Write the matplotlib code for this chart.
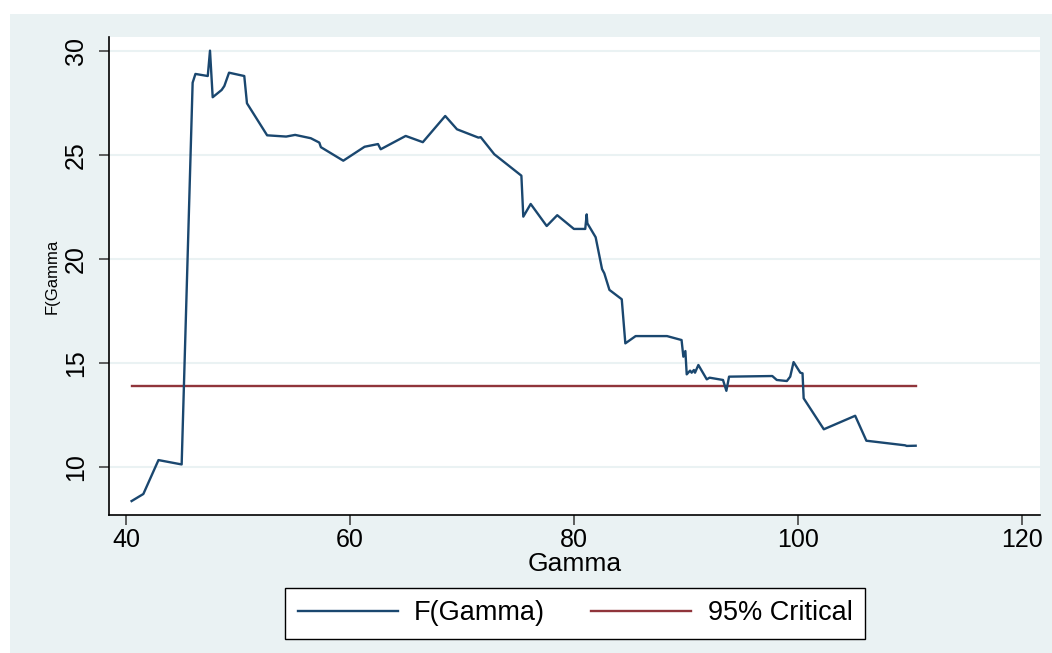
import numpy as np
import matplotlib
matplotlib.use("Agg")
import matplotlib.pyplot as plt

# valores (Gamma, F(Gamma))
gamma = [40.5, 41.55, 42.9, 44.97, 45.95, 46.2, 47.3, 47.5, 47.74, 48.54, 48.78,
         49.2, 50.56, 50.8, 52.6, 54.3, 55.1, 56.5, 57.26, 57.4, 59.4, 61.3,
         62.5, 62.74, 64.97, 66.5, 68.5, 69.55, 71.46, 71.67, 72.88, 75.3,
         75.47, 76.13, 77.56, 78.5, 79.99, 81.0, 81.13, 81.19, 81.93, 82.5,
         82.7, 83.16, 84.26, 84.58, 85.5, 88.3, 89.6, 89.76, 89.94, 90.06,
         90.36, 90.5, 90.7, 90.8, 91.1, 91.85, 92.1, 93.3, 93.6, 93.84, 97.7,
         98.1, 99.0, 99.3, 99.6, 100.2, 100.4, 100.5, 102.3, 105.1, 106.1,
         109.55, 109.7, 110.5]
f_gamma = [8.35, 8.69, 10.32, 10.11, 28.46, 28.88, 28.78, 30.0, 27.76, 28.11,
           28.3, 28.94, 28.78, 27.47, 25.93, 25.87, 25.95, 25.79, 25.58, 25.36,
           24.71, 25.38, 25.51, 25.26, 25.9, 25.6, 26.86, 26.22, 25.82, 25.84,
           25.02, 23.99, 22.02, 22.63, 21.57, 22.09, 21.43, 21.43, 22.13, 21.7,
           21.03, 19.5, 19.3, 18.5, 18.05, 15.93, 16.28, 16.28, 16.09, 15.29,
           15.56, 14.44, 14.62, 14.52, 14.65, 14.52, 14.89, 14.2, 14.28, 14.17,
           13.65, 14.33, 14.36, 14.17, 14.12, 14.33, 15.03, 14.52, 14.49, 13.29,
           11.8, 12.45, 11.25, 11.03, 11.0, 11.01]
crit_value = 13.88
crit = np.full(len(gamma), crit_value)

xticks = [40, 60, 80, 100, 120]
yticks = [10, 15, 20, 25, 30]

bg = "#EAF2F3"
navy = "#1A476F"
maroon = "#90353B"

plt.rcParams['font.family'] = ['Liberation Sans', 'DejaVu Sans']

fig = plt.figure(figsize=(10.52, 6.53), dpi=100, facecolor="white")
# fondo gris-azulado tipo Stata
fig.patches.append(plt.Rectangle((10 / 1052, 0), 1 - 10 / 1052, 1 - 14 / 653,
                                 transform=fig.transFigure, facecolor=bg,
                                 edgecolor="none", zorder=-10))

ax = fig.add_axes([109.3 / 1052, 1 - 515 / 653, (1040 - 109.3) / 1052, (515 - 36.7) / 653])
ax.set_facecolor("white")

ax.plot(gamma, f_gamma, color=navy, lw=1.7, label="F(Gamma)", zorder=3)
ax.plot(gamma, crit, color=maroon, lw=1.7, label="95% Critical", zorder=2)

ax.set_xlim(38.51, 121.6)
ax.set_ylim(7.68, 30.67)
ax.set_xticks(xticks)
ax.set_yticks(yticks)
ax.set_yticklabels([str(v) for v in yticks], rotation=90, va="center")
ax.tick_params(axis="both", labelsize=18, length=7.2, width=1.2, color="#444444")
ax.tick_params(axis="x", pad=2)
ax.tick_params(axis="y", pad=8)
ax.grid(axis="y", color=bg, lw=1.5, zorder=0)
ax.set_axisbelow(True)

for s in ["top", "right"]:
    ax.spines[s].set_visible(False)
for s in ["left", "bottom"]:
    ax.spines[s].set_color("black")
    ax.spines[s].set_linewidth(1.2)

ax.set_xlabel("Gamma", fontsize=19, labelpad=0.5)
fig.text(52 / 1052, 1 - 276 / 653, "F(Gamma", rotation=90, fontsize=12,
         ha="center", va="center")

leg = fig.legend(loc="center", bbox_to_anchor=(575 / 1052, 1 - 613.5 / 653), ncol=2,
                 fontsize=19.5, frameon=True, fancybox=False, edgecolor="black",
                 facecolor="white", framealpha=1,
                 handlelength=3.7, columnspacing=1.7, handletextpad=0.6,
                 borderpad=0.45, borderaxespad=0)
leg.get_frame().set_linewidth(1.0)

fig.savefig("out.png", dpi=100, facecolor="white")
